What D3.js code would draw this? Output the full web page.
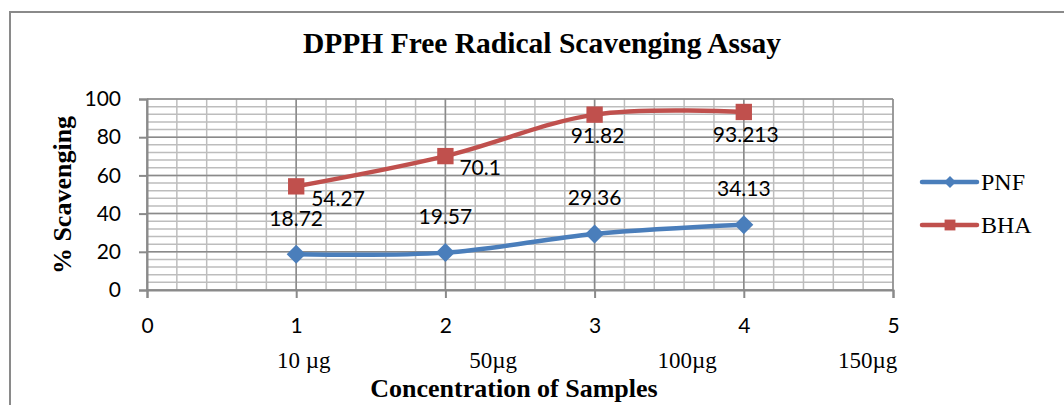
<!DOCTYPE html>
<html>
<head>
<meta charset="utf-8">
<script src="https://cdn.jsdelivr.net/npm/d3@7"></script>
<style>
  html, body { margin: 0; padding: 0; background: #fff; }
  svg { display: block; }
</style>
</head>
<body>
<div id="chart"></div>
<script>
// sample number on x, % scavenging on y
const samples = [1, 2, 3, 4];
const pnfValues = [18.72, 19.57, 29.36, 34.13];
const bhaValues = [54.27, 70.1, 91.82, 93.213];
const seriesNames = ["PNF", "BHA"];
const xTicks = [0, 1, 2, 3, 4, 5];
const yTicks = [0, 20, 40, 60, 80, 100];
const concLabels = ["10 \u00b5g", "50\u00b5g", "100\u00b5g", "150\u00b5g"];
const concAt = [1.05, 2.32, 3.62, 4.83];

const W = 1064, H = 405;
const margin = { top: 99, right: 171, bottom: 115, left: 147 };

const svg = d3.select("#chart").append("svg")
  .attr("width", W)
  .attr("height", H);

// outer chart border (runs off the right and bottom edge)
svg.append("rect")
  .attr("x", 10).attr("y", 12)
  .attr("width", W + 20).attr("height", H + 20)
  .attr("fill", "none")
  .attr("stroke", "#8a8a8a")
  .attr("stroke-width", 2);

const x = d3.scaleLinear().domain([0, 5]).range([margin.left, W - margin.right]);
const y = d3.scaleLinear().domain([0, 100]).range([H - margin.bottom, margin.top]);

// minor grid
const grid = svg.append("g");
grid.selectAll("line.hmin")
  .data(d3.range(0, 101, 4))
  .enter().append("line")
  .attr("x1", x(0)).attr("x2", x(5))
  .attr("y1", d => y(d)).attr("y2", d => y(d))
  .attr("stroke", "#bdbdbd").attr("stroke-width", 1.5);
grid.selectAll("line.vmin")
  .data(d3.range(0, 26).map(i => i / 5))
  .enter().append("line")
  .attr("x1", d => x(d)).attr("x2", d => x(d))
  .attr("y1", y(0)).attr("y2", y(100))
  .attr("stroke", "#bdbdbd").attr("stroke-width", 1.5);

// major grid
grid.selectAll("line.hmaj")
  .data(yTicks)
  .enter().append("line")
  .attr("x1", x(0)).attr("x2", x(5))
  .attr("y1", d => y(d)).attr("y2", d => y(d))
  .attr("stroke", "#8a8a8a").attr("stroke-width", 1.5);
grid.selectAll("line.vmaj")
  .data(xTicks)
  .enter().append("line")
  .attr("x1", d => x(d)).attr("x2", d => x(d))
  .attr("y1", y(0)).attr("y2", y(100))
  .attr("stroke", "#8a8a8a").attr("stroke-width", 1.5);

// axes
const numFont = "Lato, 'Open Sans', sans-serif";
const serif = "'Liberation Serif', 'Times New Roman', serif";

const yAxis = svg.append("g")
  .attr("transform", `translate(${x(0)},0)`)
  .call(d3.axisLeft(y).tickValues(yTicks).tickSize(8).tickPadding(18));
const xAxis = svg.append("g")
  .attr("transform", `translate(0,${y(0)})`)
  .call(d3.axisBottom(x).tickValues(xTicks).tickFormat(d3.format("d")).tickSize(8).tickPadding(20));

[xAxis, yAxis].forEach(a => {
  a.select(".domain").attr("stroke", "#8a8a8a").attr("stroke-width", 2);
  a.selectAll(".tick line").attr("stroke", "#8a8a8a").attr("stroke-width", 2);
  a.selectAll(".tick text")
    .attr("fill", "#000")
    .style("font-family", numFont)
    .style("font-size", "21px");
});

// concentration labels under the sample numbers
svg.selectAll("text.conc")
  .data(concLabels)
  .enter().append("text")
  .attr("class", "conc")
  .attr("x", (d, i) => x(concAt[i]))
  .attr("y", 368)
  .attr("text-anchor", "middle")
  .style("font-family", serif)
  .style("font-size", "23px")
  .text(d => d);

// series
const series = [
  { name: seriesNames[0], values: pnfValues, color: "#4a7ebb", marker: d3.symbolDiamond2, size: 230 },
  { name: seriesNames[1], values: bhaValues, color: "#c0504d", marker: d3.symbolSquare2, size: 340 }
];

const line = d3.line()
  .x((d, i) => x(samples[i]))
  .y(d => y(d))
  .curve(d3.curveCatmullRom.alpha(0));

series.forEach(s => {
  svg.append("path")
    .attr("d", line(s.values))
    .attr("fill", "none")
    .attr("stroke", s.color)
    .attr("stroke-width", 4.5)
    .attr("stroke-linecap", "round");

  svg.selectAll(null)
    .data(s.values)
    .enter().append("path")
    .attr("transform", (d, i) => `translate(${x(samples[i])},${y(d)})`)
    .attr("d", d3.symbol().type(s.marker).size(s.size))
    .attr("fill", s.color);
});

// data labels
const pnfLabelPos = pnfValues.map(() => ({ dx: 0, dy: -36, anchor: "middle" }));
const bhaLabelPos = [
  { dx: 15, dy: 12, anchor: "start" },
  { dx: 14, dy: 12, anchor: "start" },
  { dx: 3, dy: 21, anchor: "middle" },
  { dx: 2, dy: 23, anchor: "middle" }
];

[[pnfValues, pnfLabelPos], [bhaValues, bhaLabelPos]].forEach(([vals, pos]) => {
  svg.selectAll(null)
    .data(vals)
    .enter().append("text")
    .attr("x", (d, i) => x(samples[i]) + pos[i].dx)
    .attr("y", (d, i) => y(d) + pos[i].dy)
    .attr("dy", "0.35em")
    .attr("text-anchor", (d, i) => pos[i].anchor)
    .style("font-family", numFont)
    .style("font-size", "21px")
    .text(d => d);
});

// titles
svg.append("text")
  .attr("x", 542).attr("y", 53)
  .attr("text-anchor", "middle")
  .style("font-family", serif)
  .style("font-weight", "bold")
  .style("font-size", "29.5px")
  .text("DPPH Free Radical Scavenging Assay");

svg.append("text")
  .attr("transform", `translate(71,195) rotate(-90)`)
  .attr("text-anchor", "middle")
  .style("font-family", serif)
  .style("font-weight", "bold")
  .style("font-size", "26px")
  .text("% Scavenging");

svg.append("text")
  .attr("x", 514).attr("y", 397)
  .attr("text-anchor", "middle")
  .style("font-family", serif)
  .style("font-weight", "bold")
  .style("font-size", "26px")
  .text("Concentration of Samples");

// legend
const legend = svg.append("g").attr("transform", "translate(922,182)");
series.forEach((s, i) => {
  const g = legend.append("g").attr("transform", `translate(0,${i * 43})`);
  g.append("line")
    .attr("x1", 0).attr("x2", 55)
    .attr("stroke", s.color).attr("stroke-width", 4.5)
    .attr("stroke-linecap", "round");
  g.append("path")
    .attr("transform", "translate(28,0)")
    .attr("d", d3.symbol().type(s.marker).size(i === 0 ? 90 : 150))
    .attr("fill", s.color);
  g.append("text")
    .attr("x", 59).attr("dy", "0.35em")
    .style("font-family", serif)
    .style("font-size", "24px")
    .text(s.name);
});
</script>
</body>
</html>
